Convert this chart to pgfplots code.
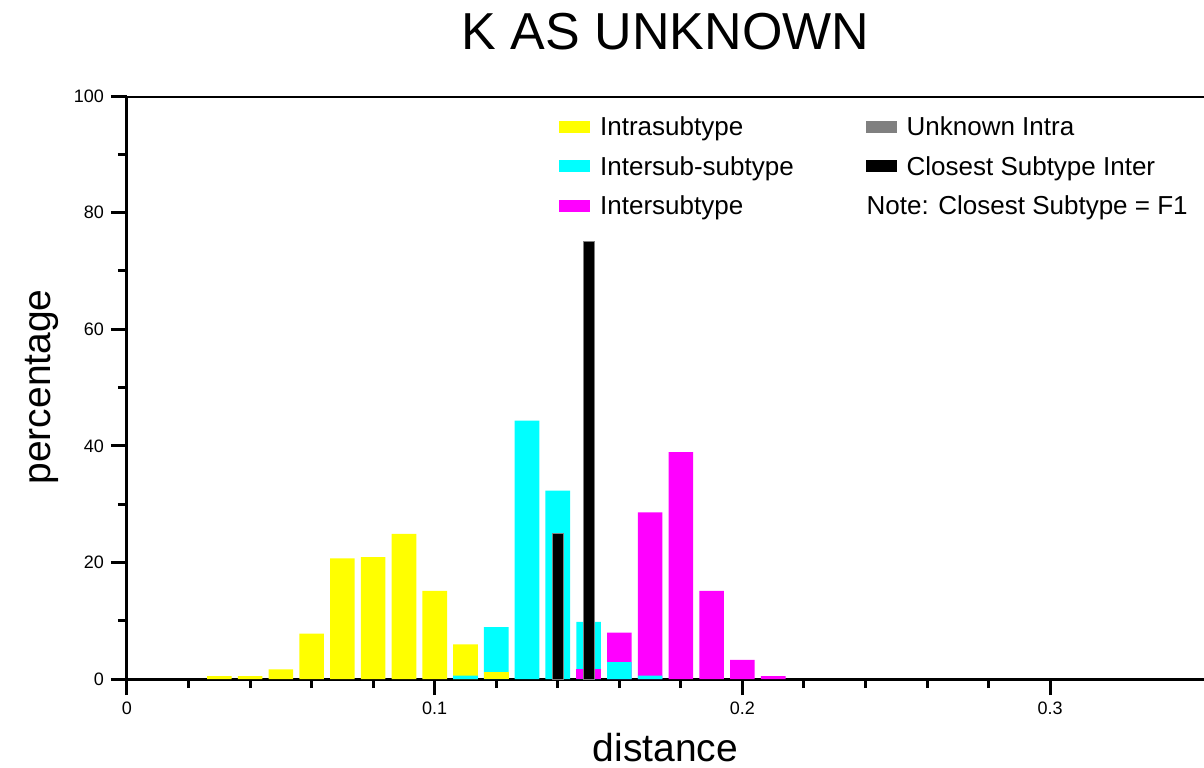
\documentclass[border=0pt]{standalone}
\usepackage{fontspec}
\setmainfont{Liberation Sans}
\usepackage{pgfplots}
\pgfplotsset{compat=1.18}
\definecolor{cy}{RGB}{0,255,255}
\definecolor{mg}{RGB}{255,0,255}
\definecolor{yl}{RGB}{255,255,0}
\definecolor{gr}{RGB}{128,128,128}
\begin{document}
\begin{tikzpicture}
\begin{axis}[
  scale only axis,
  width=538.5pt, height=291.5pt,
  xmin=0, xmax=0.35, ymin=0, ymax=100,
  axis lines=left,
  axis line style={-, line width=1.5pt},
  tick style={line width=1.5pt, black},
  major tick length=8pt, minor tick length=4.5pt,
  tick align=outside,
  xtick pos=bottom, ytick pos=left,
  xtick={0,0.1,0.2,0.3},
  xticklabels={0,0.1,0.2,0.3},
  minor x tick num=4,
  ytick={0,20,40,60,80,100},
  minor y tick num=1,
  tick label style={font=\fontsize{9}{10}\selectfont},
  /pgf/number format/assume math mode=true,
  title={K AS UNKNOWN},
  title style={font=\fontsize{26}{30}\selectfont, at={(axis description cs:0.5,1.090)}, anchor=center},
  xlabel={distance},
  ylabel={percentage},
  xlabel style={font=\fontsize{19.5}{22}\selectfont, at={(axis description cs:0.5,-0.117)}, anchor=center},
  ylabel style={font=\fontsize{19.5}{22}\selectfont, at={(axis description cs:-0.079,0.501)}, anchor=center, rotate=0},
  legend columns=2,
  legend cell align=left,
  legend style={draw=none, fill=none, font=\fontsize{13}{15}\selectfont,
    at={(axis description cs:0.3955,0.9716)}, anchor=north west,
    nodes={inner sep=0pt, text height=9.5pt, text depth=2.75pt},
    row sep=7.5pt,
    /tikz/every odd column/.append style={column sep=5pt},
    /tikz/every even column/.append style={column sep=36pt}},
]
% back layer
\addplot[ybar, bar width=0.008, bar shift=0pt, fill=yl, draw=none, forget plot] coordinates {
 (0.03,0.5) (0.04,0.5) (0.05,1.65) (0.06,7.8) (0.07,20.7) (0.08,20.9) (0.09,24.9) (0.10,15.1) (0.11,5.95)};
\addplot[ybar, bar width=0.008, bar shift=0pt, fill=cy, draw=none, forget plot] coordinates {
 (0.12,8.9) (0.13,44.3) (0.14,32.3) (0.15,9.8)};
\addplot[ybar, bar width=0.008, bar shift=0pt, fill=mg, draw=none, forget plot] coordinates {
 (0.16,7.95) (0.17,28.6) (0.18,38.9) (0.19,15.1) (0.20,3.3) (0.21,0.5)};
% front layer
\addplot[ybar, bar width=0.008, bar shift=0pt, fill=cy, draw=none, forget plot] coordinates {
 (0.11,0.6) (0.16,2.9) (0.17,0.6)};
\addplot[ybar, bar width=0.008, bar shift=0pt, fill=yl, draw=none, forget plot] coordinates {
 (0.12,1.25)};
\addplot[ybar, bar width=0.008, bar shift=0pt, fill=mg, draw=none, forget plot] coordinates {
 (0.15,1.7)};
% closest subtype inter
\addplot[ybar, bar width=0.0036, bar shift=0pt, fill=black, draw=gr, line width=0.4pt, forget plot] coordinates {
 (0.14,25) (0.15,75)};
\draw[line width=1.5pt] (rel axis cs:0,1) -- (rel axis cs:1,1);
% legend
\addlegendimage{legend image code/.code={\fill[yl] (0pt,-1.5pt) rectangle (15pt,4pt);}}
\addlegendentry{Intrasubtype}
\addlegendimage{legend image code/.code={\fill[gr] (0pt,-1.5pt) rectangle (15pt,4pt);}}
\addlegendentry{Unknown Intra}
\addlegendimage{legend image code/.code={\fill[cy] (0pt,-1.5pt) rectangle (15pt,4pt);}}
\addlegendentry{Intersub-subtype}
\addlegendimage{legend image code/.code={\fill[black] (0pt,-1.5pt) rectangle (15pt,4pt);}}
\addlegendentry{Closest Subtype Inter}
\addlegendimage{legend image code/.code={\fill[mg] (0pt,-1.5pt) rectangle (15pt,4pt);}}
\addlegendentry{Intersubtype}
\addlegendimage{legend image code/.code={}}
\addlegendentry{\hspace*{-20pt}Note: Closest Subtype = F1}
\end{axis}
\pgfresetboundingbox
\path[use as bounding box] ([shift={(-63.5pt,-44pt)}]current axis.south west) rectangle ([shift={(0pt,48pt)}]current axis.north east);
\end{tikzpicture}
\end{document}
